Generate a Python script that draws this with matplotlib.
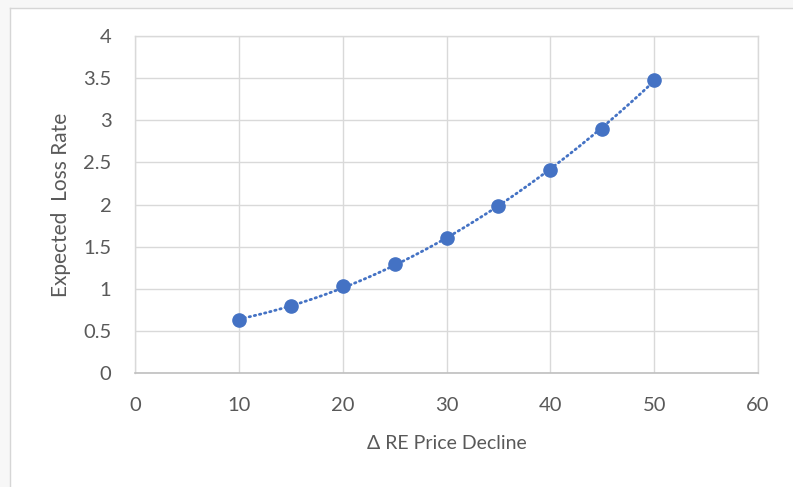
import numpy as np
import matplotlib.pyplot as plt
from matplotlib.lines import Line2D
from matplotlib.patches import Rectangle

# Values
price_decline = [10, 15, 20, 25, 30, 35, 40, 45, 50]
loss_rate = [0.63, 0.80, 1.03, 1.29, 1.60, 1.98, 2.41, 2.90, 3.48]

x_ticks = [0, 10, 20, 30, 40, 50, 60]
y_ticks = [0, 0.5, 1, 1.5, 2, 2.5, 3, 3.5, 4]
y_labels = ["0", "0.5", "1", "1.5", "2", "2.5", "3", "3.5", "4"]

BLUE = "#4472C4"
GRID = "#d9d9d9"
TEXT = "#595959"

plt.rcParams["font.family"] = ["Lato", "DejaVu Sans"]

fig = plt.figure(figsize=(7.93, 4.87), dpi=100)

# light frame of the pasted chart (left and top edges)
W, H = 793, 487
fig.patches.append(Rectangle((0, 0), 9.5 / W, 1, transform=fig.transFigure,
                             facecolor="#f7f7f7", edgecolor="none", zorder=0))
fig.patches.append(Rectangle((0, 1 - 7.5 / H), 1, 7.5 / H, transform=fig.transFigure,
                             facecolor="#f7f7f7", edgecolor="none", zorder=0))
fig.lines.append(Line2D([9.5 / W, 9.5 / W], [0, 1 - 7.5 / H], transform=fig.transFigure,
                        color="#d6d6d6", lw=1))
fig.lines.append(Line2D([9.5 / W, 1], [1 - 7.5 / H, 1 - 7.5 / H], transform=fig.transFigure,
                        color="#d6d6d6", lw=1))

ax = fig.add_axes([135 / W, 1 - 373.3 / H, (758 - 135) / W, (373.3 - 35.7) / H])

# quadratic trendline through the points
coef = np.polyfit(price_decline, loss_rate, 2)
xs = np.linspace(min(price_decline), max(price_decline) + 0.4, 200)
ax.plot(xs, np.polyval(coef, xs), color=BLUE, lw=2, ls=(0, (0.5, 1.4)),
        dash_capstyle="round", zorder=3)

ax.plot(price_decline, loss_rate, "o", color=BLUE, ms=9.5, zorder=4)

ax.set_xlim(0, 60)
ax.set_ylim(0, 4)
ax.set_xticks(x_ticks)
ax.set_yticks(y_ticks)
ax.set_yticklabels(y_labels)
ax.grid(True, color=GRID, lw=1)
ax.set_axisbelow(True)

for side in ["top", "right", "left"]:
    ax.spines[side].set_color(GRID)
    ax.spines[side].set_linewidth(1)
ax.spines["bottom"].set_color("#bfbfbf")
ax.spines["bottom"].set_linewidth(1.2)

ax.tick_params(length=0, labelsize=14.5, colors=TEXT)
ax.tick_params(axis="x", pad=17)
ax.tick_params(axis="y", pad=17)

ax.set_xlabel("Δ RE Price Decline", fontsize=14, color=TEXT, labelpad=15)
ax.set_ylabel("Expected  Loss Rate", fontsize=15, color=TEXT, labelpad=9)

fig.savefig("out.png", dpi=100)
